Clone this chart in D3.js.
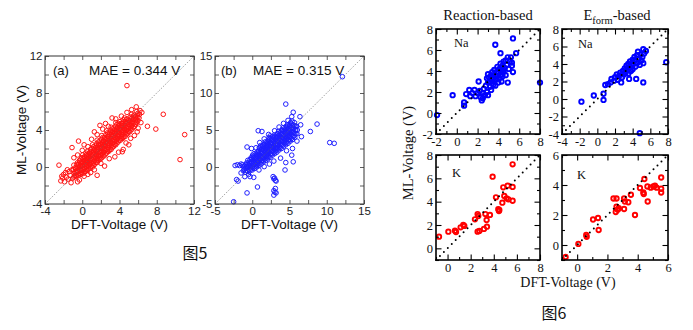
<!DOCTYPE html>
<html>
<head>
<meta charset="utf-8">
<script src="https://cdn.jsdelivr.net/npm/d3@7"></script>
<style>
  body { margin: 0; background: #fff; }
  svg { display: block; }
</style>
</head>
<body>
<script>
// ---- Fig. 5 (a): ML vs DFT voltage, red cloud ----
const aPoints = [
  [-2.3,-1.5],[-2.1,-1.2],[-2.0,-0.8],[-1.9,-1.6],[-1.8,-0.6],[-1.7,-1.1],[-1.6,-0.3],[-1.5,-1.3],
  [-1.3,-0.9],[-1.2,-1.7],[-1.4,-0.5],[-2.2,-1.0],[-1.1,-0.3],[-1.0,-1.2],[-0.9,0.2],[-0.8,-1.0],
  [-0.9,-1.1],[-0.85,-0.7],[-0.95,-0.3],
  [-0.65,-1.0],[-0.6,-0.6],[-0.7,-0.2],[-0.6,0.25],
  [-0.4,-0.9],[-0.45,-0.5],[-0.35,-0.1],[-0.4,0.3],[-0.3,0.7],
  [-0.15,-0.8],[-0.1,-0.4],[-0.2,0.05],[-0.1,0.4],[-0.15,0.85],
  [0.1,-0.7],[0.15,-0.3],[0.05,0.1],[0.1,0.5],[0.15,0.9],[0.05,1.3],
  [0.35,-0.5],[0.3,-0.1],[0.4,0.3],[0.35,0.7],[0.3,1.1],[0.4,1.5],
  [0.6,-0.3],[0.65,0.1],[0.55,0.5],[0.6,0.9],[0.65,1.3],[0.55,1.7],
  [0.85,-0.1],[0.8,0.3],[0.9,0.7],[0.85,1.1],[0.8,1.5],[0.9,1.9],
  [1.1,0.0],[1.15,0.4],[1.05,0.8],[1.1,1.2],[1.15,1.6],[1.05,2.0],[1.1,2.4],
  [1.35,0.3],[1.3,0.7],[1.4,1.1],[1.35,1.5],[1.3,1.9],[1.4,2.3],
  [1.6,0.5],[1.65,0.9],[1.55,1.3],[1.6,1.7],[1.65,2.1],[1.55,2.5],[1.6,2.9],
  [1.85,0.8],[1.8,1.2],[1.9,1.6],[1.85,2.0],[1.8,2.4],[1.9,2.8],
  [2.1,1.0],[2.15,1.4],[2.05,1.8],[2.1,2.2],[2.15,2.6],[2.05,3.0],[2.1,3.4],
  [2.35,1.2],[2.3,1.6],[2.4,2.0],[2.35,2.4],[2.3,2.8],[2.4,3.2],
  [2.6,1.5],[2.65,1.9],[2.55,2.3],[2.6,2.7],[2.65,3.1],[2.55,3.5],[2.6,3.9],
  [2.85,1.7],[2.8,2.1],[2.9,2.5],[2.85,2.9],[2.8,3.3],[2.9,3.7],
  [3.1,1.9],[3.15,2.3],[3.05,2.7],[3.1,3.1],[3.15,3.5],[3.05,3.9],[3.1,4.3],
  [3.35,2.2],[3.3,2.6],[3.4,3.0],[3.35,3.4],[3.3,3.8],[3.4,4.2],
  [3.6,2.4],[3.65,2.8],[3.55,3.2],[3.6,3.6],[3.65,4.0],[3.55,4.4],[3.6,4.8],
  [3.85,2.7],[3.8,3.1],[3.9,3.5],[3.85,3.9],[3.8,4.3],[3.9,4.7],
  [4.1,2.9],[4.15,3.3],[4.05,3.7],[4.1,4.1],[4.15,4.5],[4.05,4.9],
  [4.35,3.1],[4.3,3.5],[4.4,3.9],[4.35,4.3],[4.3,4.7],[4.4,5.1],
  [4.6,3.3],[4.65,3.7],[4.55,4.1],[4.6,4.5],[4.65,4.9],[4.55,5.3],
  [4.85,3.6],[4.8,4.0],[4.9,4.4],[4.85,4.8],[4.8,5.2],
  [5.1,3.8],[5.15,4.2],[5.05,4.6],[5.1,5.0],[5.15,5.4],
  [5.35,4.1],[5.3,4.5],[5.4,4.9],[5.35,5.3],[5.3,5.7],
  [5.6,4.4],[5.65,4.8],[5.55,5.2],[5.6,5.6],
  [5.85,4.8],[5.8,5.2],[5.9,5.6],[5.85,6.0],
  [6.1,5.3],[6.15,5.7],
  // dense middle of the band
  [-0.78,-0.9],[-0.78,-0.5],[-0.78,-0.1],
  [-0.52,-0.8],[-0.52,-0.4],[-0.52,0.0],[-0.52,0.45],
  [-0.27,-0.7],[-0.27,-0.3],[-0.27,0.1],[-0.27,0.5],
  [-0.02,-0.6],[-0.02,-0.2],[-0.02,0.2],[-0.02,0.6],[-0.02,1.0],
  [0.22,-0.5],[0.22,-0.1],[0.22,0.3],[0.22,0.7],[0.22,1.1],
  [0.47,-0.3],[0.47,0.1],[0.47,0.5],[0.47,0.9],[0.47,1.3],
  [0.72,-0.1],[0.72,0.3],[0.72,0.7],[0.72,1.1],[0.72,1.5],
  [0.97,0.1],[0.97,0.5],[0.97,0.9],[0.97,1.3],[0.97,1.7],
  [1.22,0.2],[1.22,0.6],[1.22,1.0],[1.22,1.4],[1.22,1.8],[1.22,2.2],
  [1.47,0.5],[1.47,0.9],[1.47,1.3],[1.47,1.7],[1.47,2.1],
  [1.72,0.7],[1.72,1.1],[1.72,1.5],[1.72,1.9],[1.72,2.3],[1.72,2.7],
  [1.97,0.9],[1.97,1.3],[1.97,1.7],[1.97,2.1],[1.97,2.5],
  [2.22,1.2],[2.22,1.6],[2.22,2.0],[2.22,2.4],[2.22,2.8],[2.22,3.2],
  [2.47,1.4],[2.47,1.8],[2.47,2.2],[2.47,2.6],[2.47,3.0],
  [2.72,1.7],[2.72,2.1],[2.72,2.5],[2.72,2.9],[2.72,3.3],[2.72,3.7],
  [2.97,1.9],[2.97,2.3],[2.97,2.7],[2.97,3.1],[2.97,3.5],
  [3.22,2.1],[3.22,2.5],[3.22,2.9],[3.22,3.3],[3.22,3.7],[3.22,4.1],
  [3.47,2.4],[3.47,2.8],[3.47,3.2],[3.47,3.6],[3.47,4.0],
  [3.72,2.6],[3.72,3.0],[3.72,3.4],[3.72,3.8],[3.72,4.2],[3.72,4.6],
  [3.97,2.9],[3.97,3.3],[3.97,3.7],[3.97,4.1],[3.97,4.5],
  [4.22,3.1],[4.22,3.5],[4.22,3.9],[4.22,4.3],[4.22,4.7],
  [4.47,3.3],[4.47,3.7],[4.47,4.1],[4.47,4.5],[4.47,4.9],
  [4.72,3.5],[4.72,3.9],[4.72,4.3],[4.72,4.7],[4.72,5.1],
  [4.97,3.8],[4.97,4.2],[4.97,4.6],[4.97,5.0],
  [5.22,4.0],[5.22,4.4],[5.22,4.8],[5.22,5.2],
  [5.47,4.3],[5.47,4.7],[5.47,5.1],[5.47,5.5],
  [5.72,4.6],[5.72,5.0],[5.72,5.4],
  [5.97,5.0],[5.97,5.4],[5.97,5.8],
  // outliers and loose scatter
  [-2.5,0.2],[4.8,8.8],[8.7,5.7],[7.0,4.4],[7.9,4.1],[11.0,3.5],[10.5,0.8],
  [-1.1,2.1],[-0.4,2.8],[-0.5,1.3],[0.2,2.4],[1.3,3.8],[1.9,4.5],[2.5,4.7],[3.2,5.3],[5.8,6.5],
  [0.6,2.2],[1.0,3.0],[1.6,3.5],[2.2,4.1],[2.8,4.4],[3.6,5.2],[4.2,5.5],[4.8,5.9],[5.3,6.2],
  [6.2,6.1],[6.4,5.9],[-0.9,1.0],[0.0,1.8],
  [0.2,-1.0],[1.6,-0.9],[2.4,0.1],[3.5,1.1],[4.3,1.65],[4.4,1.9],[5.0,2.4],[5.2,3.1],
  [0.9,-0.6],[1.3,-0.3],[2.0,0.4],[2.9,0.9],[3.9,1.6],[4.7,2.6],[5.6,3.4],[6.0,4.2],
  [6.3,4.8],[5.9,3.8],[-0.3,-1.4],[0.6,-0.8],[-0.5,-1.6]
];

// ---- Fig. 5 (b): blue cloud ----
const bPoints = [
  [-1.2,-0.5],[-1.15,0.0],
  [-0.9,-0.7],[-0.95,-0.2],[-0.85,0.3],
  [-0.6,-0.6],[-0.65,-0.1],[-0.55,0.4],[-0.6,0.9],
  [-0.3,-0.5],[-0.25,0.0],[-0.35,0.5],[-0.3,1.0],
  [0.0,-0.4],[0.05,0.1],[-0.05,0.6],[0.0,1.1],[0.05,1.6],
  [0.3,-0.2],[0.25,0.3],[0.35,0.8],[0.3,1.3],[0.25,1.8],
  [0.6,0.0],[0.65,0.5],[0.55,1.0],[0.6,1.5],[0.65,2.0],
  [0.9,0.2],[0.85,0.7],[0.95,1.2],[0.9,1.7],[0.85,2.2],[0.95,2.6],
  [1.2,0.4],[1.25,0.9],[1.15,1.4],[1.2,1.9],[1.25,2.4],[1.15,2.9],
  [1.5,0.7],[1.45,1.2],[1.55,1.7],[1.5,2.2],[1.45,2.7],[1.55,3.1],
  [1.8,0.9],[1.85,1.4],[1.75,1.9],[1.8,2.4],[1.85,2.9],[1.75,3.4],
  [2.1,1.1],[2.05,1.6],[2.15,2.1],[2.1,2.6],[2.05,3.1],[2.15,3.6],
  [2.4,1.3],[2.45,1.8],[2.35,2.3],[2.4,2.8],[2.45,3.3],[2.35,3.8],[2.4,4.2],
  [2.7,1.6],[2.65,2.1],[2.75,2.6],[2.7,3.1],[2.65,3.6],[2.75,4.1],
  [3.0,1.8],[3.05,2.3],[2.95,2.8],[3.0,3.3],[3.05,3.8],[2.95,4.3],
  [3.3,2.0],[3.25,2.5],[3.35,3.0],[3.3,3.5],[3.25,4.0],[3.35,4.5],
  [3.6,2.3],[3.65,2.8],[3.55,3.3],[3.6,3.8],[3.65,4.3],[3.55,4.8],
  [3.9,2.5],[3.85,3.0],[3.95,3.5],[3.9,4.0],[3.85,4.5],[3.95,5.0],
  [4.2,2.8],[4.25,3.3],[4.15,3.8],[4.2,4.3],[4.25,4.8],[4.15,5.3],
  [4.5,3.0],[4.45,3.5],[4.55,4.0],[4.5,4.5],[4.45,5.0],[4.55,5.5],
  [4.8,3.2],[4.85,3.7],[4.75,4.2],[4.8,4.7],[4.85,5.2],[4.75,5.7],
  [5.1,3.5],[5.05,4.0],[5.15,4.5],[5.1,5.0],[5.05,5.5],[5.15,6.0],
  [5.4,3.7],[5.45,4.2],[5.35,4.7],[5.4,5.2],[5.45,5.7],[5.35,6.2],
  [5.7,4.0],[5.65,4.5],[5.75,5.0],[5.7,5.5],[5.65,6.0],
  [6.0,4.5],[6.05,5.0],[5.95,5.5],
  // dense middle of the band
  [-1.05,-0.35],[-1.05,0.15],
  [-0.75,-0.45],[-0.75,0.05],[-0.75,0.55],
  [-0.45,-0.35],[-0.45,0.15],[-0.45,0.65],
  [-0.15,-0.25],[-0.15,0.25],[-0.15,0.75],[-0.15,1.25],
  [0.15,-0.05],[0.15,0.45],[0.15,0.95],[0.15,1.45],
  [0.45,0.15],[0.45,0.65],[0.45,1.15],[0.45,1.65],
  [0.75,0.35],[0.75,0.85],[0.75,1.35],[0.75,1.85],
  [1.05,0.55],[1.05,1.05],[1.05,1.55],[1.05,2.05],[1.05,2.55],
  [1.35,0.85],[1.35,1.35],[1.35,1.85],[1.35,2.35],[1.35,2.85],
  [1.65,1.05],[1.65,1.55],[1.65,2.05],[1.65,2.55],[1.65,3.05],
  [1.95,1.25],[1.95,1.75],[1.95,2.25],[1.95,2.75],[1.95,3.25],
  [2.25,1.45],[2.25,1.95],[2.25,2.45],[2.25,2.95],[2.25,3.45],[2.25,3.95],
  [2.55,1.75],[2.55,2.25],[2.55,2.75],[2.55,3.25],[2.55,3.75],
  [2.85,1.95],[2.85,2.45],[2.85,2.95],[2.85,3.45],[2.85,3.95],
  [3.15,2.15],[3.15,2.65],[3.15,3.15],[3.15,3.65],[3.15,4.15],
  [3.45,2.45],[3.45,2.95],[3.45,3.45],[3.45,3.95],[3.45,4.45],
  [3.75,2.65],[3.75,3.15],[3.75,3.65],[3.75,4.15],[3.75,4.65],
  [4.05,2.95],[4.05,3.45],[4.05,3.95],[4.05,4.45],[4.05,4.95],
  [4.35,3.15],[4.35,3.65],[4.35,4.15],[4.35,4.65],[4.35,5.15],
  [4.65,3.35],[4.65,3.85],[4.65,4.35],[4.65,4.85],[4.65,5.35],
  [4.95,3.65],[4.95,4.15],[4.95,4.65],[4.95,5.15],[4.95,5.65],
  [5.25,3.85],[5.25,4.35],[5.25,4.85],[5.25,5.35],[5.25,5.85],
  [5.55,4.15],[5.55,4.65],[5.55,5.15],[5.55,5.65],
  [5.85,4.5],[5.85,5.0],[5.85,5.5],
  // outliers and loose scatter
  [-2.3,0.2],[-2.0,0.3],[-1.7,0.2],[-1.5,0.4],[-1.3,0.3],[-2.1,-1.7],[-1.9,-1.9],[-1.0,-1.3],
  [-1.5,-0.8],[-0.3,-1.3],[-0.5,-1.0],[0.2,-1.4],[0.9,-0.4],[-0.7,-3.5],[0.7,-2.7],[-2.5,-4.7],
  [0.8,4.9],[1.3,4.8],[-0.7,2.7],[-0.1,2.5],[0.5,2.6],[1.0,3.3],[2.2,4.4],[1.6,3.8],
  [3.0,4.9],[3.6,5.4],[4.2,5.9],[4.8,6.3],[5.3,6.8],[6.4,6.8],[6.5,5.7],[6.6,4.1],[6.0,3.5],
  [4.5,8.5],[5.5,7.4],[12.1,12.2],[8.7,5.8],[7.8,4.8],[10.4,3.3],[11.0,3.2],
  [5.5,0.7],[4.5,0.6],[4.4,-0.4],[3.8,1.2],[2.9,0.8],[1.6,0.05],[5.4,2.5],[5.3,1.6],[4.6,2.2],[2.3,0.4],
  [2.8,-1.3],[2.9,-1.6],[3.1,-1.8],[3.0,-1.5],[3.2,-1.9],[3.1,-2.9],[2.9,-3.2],[3.2,-3.5],[2.9,-3.8],[3.05,-3.4]
];

// ---- Fig. 6: Na / K, reaction-based and E_form-based ----
const naReaction = [
  [-1.9,-0.2],[-0.4,1.7],[0.7,1.0],[0.7,0.7],[0.9,1.8],[1.2,2.2],[1.3,1.6],[1.5,1.9],[1.7,2.2],
  [1.8,1.6],[2.0,1.9],[2.1,3.0],[2.2,2.1],[2.3,1.5],[2.4,1.2],[2.5,1.4],[2.5,1.9],[2.6,2.3],
  [2.7,1.7],[2.8,2.6],[2.9,2.0],[3.0,1.7],[3.0,2.9],[3.1,3.4],[3.2,2.5],[3.2,3.0],[3.3,3.6],
  [3.3,2.2],[3.4,3.2],[3.4,3.9],[3.5,2.7],[3.5,3.4],[3.6,3.0],[3.6,4.1],[3.7,3.6],[3.7,2.6],
  [3.8,3.2],[3.8,3.9],[3.9,4.4],[3.9,3.5],[4.0,2.9],[4.0,3.8],[4.1,4.2],[4.1,3.3],[4.2,4.7],
  [4.2,3.6],[4.3,4.0],[4.3,3.0],[4.4,4.5],[4.4,3.5],[4.5,4.9],[4.5,3.9],[4.6,4.3],[4.7,5.0],
  [4.7,3.6],[4.8,4.6],[4.9,5.3],[5.0,4.2],[5.1,4.9],[5.2,5.3],[5.3,4.5],[3.7,6.5],[5.4,7.1],
  [4.2,5.7],[5.7,5.7],[5.4,3.9],[5.3,4.8],[4.9,2.9],[8.0,2.9],[3.0,3.7],[2.9,3.3],[4.5,4.1]
];
const naEform = [
  [-1.8,-0.3],[-0.4,0.4],[0.7,0.6],[0.7,-0.1],[0.9,1.6],[1.2,1.7],[1.5,1.9],[1.6,2.3],[1.9,2.1],
  [2.0,2.5],[2.2,2.8],[2.3,2.2],[2.5,2.7],[2.7,1.9],[2.6,3.0],[2.8,2.5],[2.9,3.2],[3.0,2.8],
  [3.1,3.5],[3.2,3.0],[3.3,3.8],[3.4,3.3],[3.5,2.9],[3.5,4.0],[3.6,2.3],[3.6,3.6],[3.7,4.3],
  [3.8,3.2],[3.9,3.8],[4.0,4.5],[4.0,3.4],[4.1,4.0],[4.2,4.8],[4.3,3.7],[4.3,4.4],[4.4,2.3],
  [4.5,5.0],[4.5,4.1],[4.6,5.4],[4.7,4.6],[4.8,3.9],[4.9,5.1],[5.0,4.4],[5.1,4.8],[5.2,5.7],
  [5.2,4.1],[5.3,5.2],[5.5,5.5],[5.2,1.9],[4.8,-3.9],[7.8,4.2]
];
const kReaction = [
  [-0.74,1.0],[0.07,1.43],[0.64,1.51],[0.73,1.4],[1.13,1.8],[1.36,2.0],[1.45,1.92],[2.37,2.49],
  [2.6,2.94],[2.66,2.77],[2.6,1.43],[2.75,1.49],[3.15,1.66],[3.27,2.94],[3.38,2.43],[3.41,1.86],
  [3.67,2.86],[3.9,6.14],[4.19,4.37],[4.39,3.35],[4.48,3.29],[4.45,3.2],[4.74,3.91],[4.82,5.23],
  [4.91,4.49],[5.11,4.29],[5.2,5.37],[5.26,4.2],[5.63,7.2],[5.63,5.26],[5.63,4.08]
];
const kEform = [
  [-0.76,-0.8],[0.08,0.07],[0.63,0.55],[0.6,0.67],[1.05,1.7],[1.38,1.8],[1.42,1.0],[2.4,3.1],
  [2.6,3.1],[2.6,2.55],[2.68,2.35],[2.55,2.2],[2.75,2.45],[3.15,2.9],[3.1,2.4],[3.38,2.85],
  [3.1,3.1],[3.55,3.35],[3.82,2.0],[4.15,3.8],[4.37,3.5],[4.4,3.4],[4.44,4.4],[4.66,2.9],
  [4.64,3.9],[4.86,3.82],[5.03,3.9],[5.14,3.95],[5.25,3.82],[5.55,4.5],[5.55,3.75],[5.55,3.5]
];

// tick values and labelled ticks
const aTicks = [-4,-2,0,2,4,6,8,10,12], aLabels = [-4,0,4,8,12];
const bTicks = [-5,-2.5,0,2.5,5,7.5,10,12.5,15], bLabels = [-5,0,5,10,15];
const naRTicks = [-2,-1,0,1,2,3,4,5,6,7,8], naRLabels = [-2,0,2,4,6,8];
const naETicks = [-4,-3,-2,-1,0,1,2,3,4,5,6,7,8], naELabels = [-4,-2,0,2,4,6,8];
const kRTicks = [-1,0,1,2,3,4,5,6,7,8], kRLabels = [0,2,4,6,8];
const kETicks = [-1,0,1,2,3,4,5,6], kELabels = [0,2,4,6];

const SANS = "'Liberation Sans', Arial, Helvetica, sans-serif";
const SERIF = "'Liberation Serif', 'Times New Roman', Times, serif";
const CJK = "'Noto Sans CJK SC', 'Noto Sans', sans-serif";

const svg = d3.select("body").append("svg")
  .attr("width", 693).attr("height", 330)
  .style("background", "#fff");

// inward ticks on all four sides; labels only bottom/left
function drawAxes(g, x, y, o) {
  const [xl, xr] = x.range(), [yb, yt] = y.range();
  const sides = [
    [d3.axisBottom(x), `translate(0,${yb})`, o.xTicks, o.xLabels, true],
    [d3.axisTop(x), `translate(0,${yt})`, o.xTicks, o.xLabels, false],
    [d3.axisLeft(y), `translate(${xl},0)`, o.yTicks, o.yLabels, true],
    [d3.axisRight(y), `translate(${xr},0)`, o.yTicks, o.yLabels, false]
  ];
  for (const [axis, tr, ticks, labels, showText] of sides) {
    // minor ticks
    const minor = g.append("g").attr("transform", tr)
      .call(axis.tickValues(ticks.filter(t => !labels.includes(t)))
        .tickSize(-o.minorLen).tickFormat(""));
    minor.select(".domain").remove();
    minor.selectAll("line").attr("stroke", o.tickColor).attr("stroke-width", o.tickWidth);
    // major ticks
    const major = g.append("g").attr("transform", tr)
      .call(axis.tickValues(labels).tickSize(-o.majorLen).tickPadding(o.pad)
        .tickFormat(showText ? (d => String(d)) : ""));
    major.select(".domain").remove();
    major.selectAll("line").attr("stroke", o.tickColor).attr("stroke-width", o.tickWidth);
    major.attr("font-family", o.font).attr("font-size", o.fontSize);
    major.selectAll("text").attr("fill", o.textColor);
  }
  g.append("rect")
    .attr("x", xl).attr("y", yt).attr("width", xr - xl).attr("height", yb - yt)
    .attr("fill", "none").attr("stroke", o.frameColor).attr("stroke-width", o.frameWidth);
}

function scatterPanel(p) {
  const x = d3.scaleLinear(p.xDomain, [p.left, p.right]);
  const y = d3.scaleLinear(p.yDomain, [p.bottom, p.top]);
  const g = svg.append("g");

  g.append("g").selectAll("circle")
    .data(p.points)
    .join("circle")
    .attr("cx", d => x(d[0]))
    .attr("cy", d => y(d[1]))
    .attr("r", p.r)
    .attr("fill", "none")
    .attr("stroke", p.color)
    .attr("stroke-width", p.sw);

  // y = x reference line
  const lo = Math.max(p.xDomain[0], p.yDomain[0]), hi = Math.min(p.xDomain[1], p.yDomain[1]);
  g.append("line")
    .attr("x1", x(lo)).attr("y1", y(lo)).attr("x2", x(hi)).attr("y2", y(hi))
    .attr("stroke", p.diag.color).attr("stroke-width", p.diag.width)
    .attr("stroke-dasharray", p.diag.dash).attr("stroke-linecap", p.diag.cap || "butt");

  drawAxes(g, x, y, p.axis);
  return {x, y, g};
}

// ---------- Fig. 5 ----------
const leftAxis = {
  minorLen: 4, majorLen: 4, pad: 2.5, tickColor: "#333", tickWidth: 0.8,
  font: SANS, fontSize: 11.5, textColor: "#222", frameColor: "#333", frameWidth: 1
};
const grayDiag = {color: "#666", width: 0.8, dash: "1,1.6"};

scatterPanel({
  points: aPoints, xDomain: [-4, 12], yDomain: [-4, 12],
  left: 45, right: 194, top: 56, bottom: 204,
  r: 2.3, sw: 1.0, color: "#ff1414", diag: grayDiag,
  axis: {...leftAxis, xTicks: aTicks, xLabels: aLabels, yTicks: aTicks, yLabels: aLabels}
});
scatterPanel({
  points: bPoints, xDomain: [-5, 15], yDomain: [-5, 15],
  left: 215, right: 364, top: 56, bottom: 204,
  r: 2.3, sw: 1.0, color: "#1e1eff", diag: grayDiag,
  axis: {...leftAxis, xTicks: bTicks, xLabels: bLabels, yTicks: bTicks, yLabels: bLabels}
});

const txt = (x, y, s, font, size, anchor = "start") =>
  svg.append("text").attr("x", x).attr("y", y).attr("font-family", font)
    .attr("font-size", size).attr("text-anchor", anchor).attr("fill", "#111").text(s);

txt(53, 75, "(a)", SANS, 13);
txt(89, 75, "MAE = 0.344 V", SANS, 13.5);
txt(221, 75, "(b)", SANS, 13);
txt(253, 75, "MAE = 0.315 V", SANS, 13.5);
txt(119.5, 229, "DFT-Voltage (V)", SANS, 13.5, "middle");
txt(289.5, 229, "DFT-Voltage (V)", SANS, 13.5, "middle");
svg.append("text")
  .attr("transform", "translate(26,130) rotate(-90)")
  .attr("font-family", SANS).attr("font-size", 13.5).attr("text-anchor", "middle")
  .attr("fill", "#111").text("ML-Voltage (V)");
txt(195, 259, "图5", CJK, 16, "middle");

// ---------- Fig. 6 ----------
const rightAxis = {
  minorLen: 3, majorLen: 5.5, pad: 3, tickColor: "#000", tickWidth: 1.1,
  font: SERIF, fontSize: 12.5, textColor: "#111", frameColor: "#000", frameWidth: 1.6
};
const blackDiag = {color: "#000", width: 2, dash: "0,5.6", cap: "round"};

scatterPanel({
  points: naReaction, xDomain: [-2, 8], yDomain: [-2, 8],
  left: 436, right: 540, top: 29, bottom: 134,
  r: 2.2, sw: 1.9, color: "#0000ff", diag: blackDiag,
  axis: {...rightAxis, xTicks: naRTicks, xLabels: naRLabels, yTicks: naRTicks, yLabels: naRLabels}
});
scatterPanel({
  points: naEform, xDomain: [-4, 8], yDomain: [-4, 8],
  left: 562, right: 668, top: 29, bottom: 134,
  r: 2.2, sw: 1.9, color: "#0000ff", diag: blackDiag,
  axis: {...rightAxis, xTicks: naETicks, xLabels: naELabels, yTicks: naETicks, yLabels: naELabels}
});
scatterPanel({
  points: kReaction, xDomain: [-1, 8], yDomain: [-1, 8],
  left: 436, right: 540, top: 155, bottom: 260,
  r: 2.2, sw: 1.9, color: "#ff0000", diag: blackDiag,
  axis: {...rightAxis, xTicks: kRTicks, xLabels: kRLabels, yTicks: kRTicks, yLabels: kRLabels}
});
scatterPanel({
  points: kEform, xDomain: [-1, 6], yDomain: [-1, 6],
  left: 562, right: 668, top: 155, bottom: 260,
  r: 2.2, sw: 1.9, color: "#ff0000", diag: blackDiag,
  axis: {...rightAxis, xTicks: kETicks, xLabels: kELabels, yTicks: kETicks, yLabels: kELabels}
});

txt(454, 47, "Na", SERIF, 12.5);
txt(578, 48, "Na", SERIF, 12.5);
txt(452, 177, "K", SERIF, 12.5);
txt(577, 179, "K", SERIF, 12.5);

txt(488, 20, "Reaction-based", SERIF, 14.5, "middle");
const ef = svg.append("text").attr("x", 617).attr("y", 20)
  .attr("font-family", SERIF).attr("font-size", 14.5).attr("text-anchor", "middle").attr("fill", "#111");
ef.append("tspan").text("E");
ef.append("tspan").attr("font-size", 10.5).attr("dy", 3.5).text("form");
ef.append("tspan").attr("dy", -3.5).text("-based");

txt(568, 287, "DFT-Voltage (V)", SERIF, 14, "middle");
svg.append("text")
  .attr("transform", "translate(413,153) rotate(-90)")
  .attr("font-family", SERIF).attr("font-size", 14.5).attr("text-anchor", "middle")
  .attr("fill", "#111").text("ML-Voltage (V)");
txt(554, 319, "图6", CJK, 16, "middle");
</script>
</body>
</html>
